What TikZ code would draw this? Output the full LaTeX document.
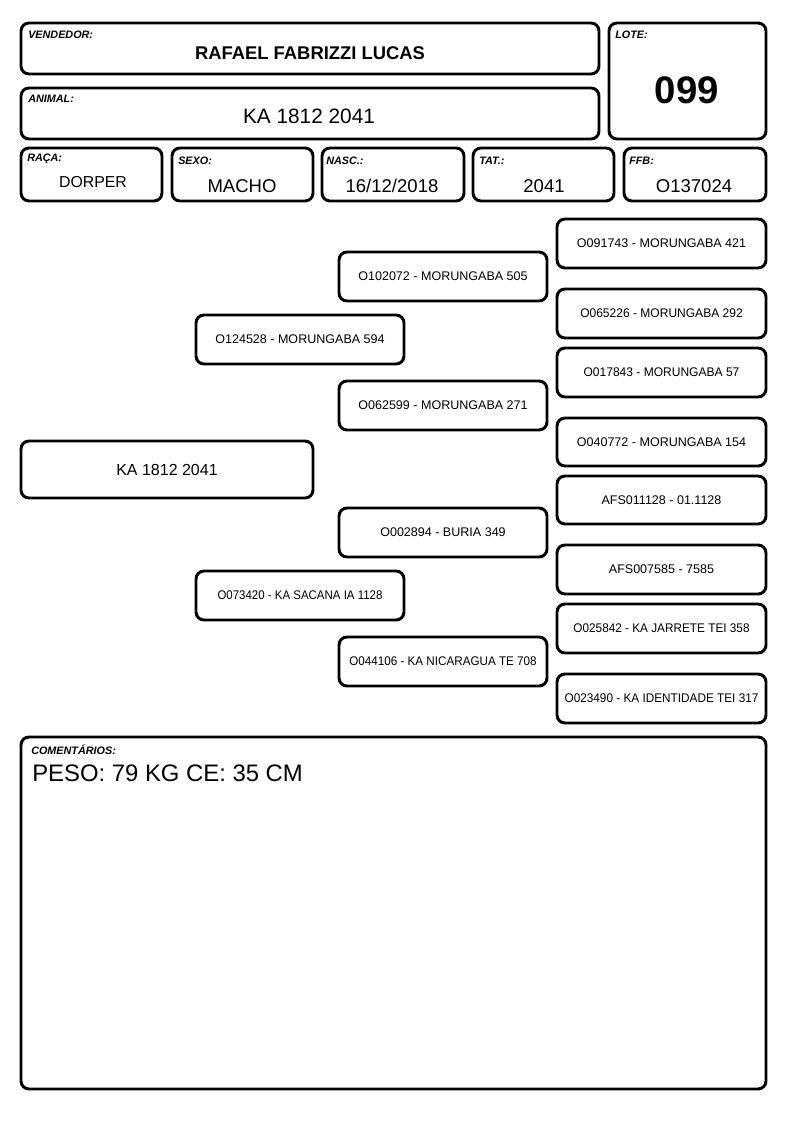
\documentclass[tikz,border=0pt]{standalone}
\usepackage{fontspec}
\setmainfont{Liberation Sans}
\newcommand\bx[7][frame]{\node[#1, minimum width={(#5-#3)*0.75pt}, minimum height={(#6-#4)*0.75pt}] (#2) at ({(#3+#5)/2},{(#4+#6)/2}) {#7};}
\newcommand\sqz[2]{\scalebox{#1}[1]{#2}}
\begin{document}
\begin{tikzpicture}[x=0.75pt,y=-0.75pt,
  frame/.style={draw, line width=2.2pt, rounded corners=6pt, inner sep=0pt},
  lbl/.style={anchor=west, inner sep=0pt, font=\fontsize{8.1pt}{9pt}\selectfont\bfseries\itshape},
  ped/.style={frame, font=\fontsize{9.4pt}{11pt}\selectfont, align=center},
  val/.style={inner sep=0pt, font=\fontsize{13.9pt}{16pt}\selectfont},
]
\useasboundingbox[fill=white] (0,0) rectangle (794,1123);
% header boxes
\bx{vend}{21}{23}{599}{74}{}
\bx{anim}{21}{88}{599}{139}{}
\bx{lote}{609}{23}{766}{139}{}
\bx{raca}{21}{148}{162}{201}{}
\bx{sexo}{172}{148}{313}{201}{}
\bx{nasc}{322}{148}{464}{201}{}
\bx{tat}{473}{148}{614}{201}{}
\bx{ffb}{624}{148}{766}{201}{}
% labels
\node[lbl] (lvend) at (28,35) {VENDEDOR:};
\node[lbl] (lanim) at (28,99) {ANIMAL:};
\node[lbl] (llote) at (615,35) {LOTE:};
\node[lbl] (lraca) at (27,159) {RAÇA:};
\node[lbl] (lsexo) at (178,161) {SEXO:};
\node[lbl] (lnasc) at (326,161) {NASC.:};
\node[lbl] (ltat) at (479,161) {TAT.:};
\node[lbl] (lffb) at (629,161) {FFB:};
% values
\node[val, font=\fontsize{13.8pt}{16pt}\selectfont\bfseries] (vvend) at (310,53) {RAFAEL FABRIZZI LUCAS};
\node[val, font=\fontsize{15.6pt}{18pt}\selectfont] (vanim) at (309,116) {KA 1812 2041};
\node[val, font=\fontsize{28.8pt}{32pt}\selectfont\bfseries] (vlote) at (687,90) {099};
\node[val, font=\fontsize{11.9pt}{14pt}\selectfont] (vraca) at (93,182) {DORPER};
\node[val] (vsexo) at (242,186) {MACHO};
\node[val] (vnasc) at (392,186) {16/12/2018};
\node[val] (vtat) at (544,186) {2041};
\node[val] (vffb) at (694,186) {O137024};
% pedigree
\bx[ped, font=\fontsize{12pt}{14pt}\selectfont]{main}{21}{441}{313}{498}{KA 1812 2041}
\bx[ped]{p1}{196}{315}{404}{364}{O124528 - MORUNGABA 594}
\bx[ped]{p2}{196}{571}{404}{620}{\sqz{0.915}{O073420 - KA SACANA IA 1128}}
\bx[ped]{g1}{339}{252}{547}{301}{O102072 - MORUNGABA 505}
\bx[ped]{g2}{339}{381}{547}{430}{O062599 - MORUNGABA 271}
\bx[ped]{g3}{339}{508}{547}{557}{O002894 - BURIA 349}
\bx[ped]{g4}{339}{637}{547}{686}{\sqz{0.93}{O044106 - KA NICARAGUA TE 708}}
\bx[ped]{gg1}{557}{219}{766}{268}{O091743 - MORUNGABA 421}
\bx[ped]{gg2}{557}{289}{766}{338}{\sqz{0.96}{O065226 - MORUNGABA 292}}
\bx[ped]{gg3}{557}{348}{766}{397}{\sqz{0.96}{O017843 - MORUNGABA 57}}
\bx[ped]{gg4}{557}{418}{766}{466}{O040772 - MORUNGABA 154}
\bx[ped]{gg5}{557}{476}{766}{524}{AFS011128 - 01.1128}
\bx[ped]{gg6}{557}{545}{766}{594}{AFS007585 - 7585}
\bx[ped]{gg7}{557}{604}{766}{653}{\sqz{0.94}{O025842 - KA JARRETE TEI 358}}
\bx[ped]{gg8}{557}{674}{766}{723}{\sqz{0.94}{O023490 - KA IDENTIDADE TEI 317}}
% comments
\bx{com}{21}{737}{766}{1089}{}
\node[lbl] (lcom) at (31,750) {COMENTÁRIOS:};
\node[anchor=west, inner sep=0pt, font=\fontsize{17.9pt}{20pt}\selectfont] (vcom) at (32,773) {PESO: 79 KG CE: 35 CM};
\end{tikzpicture}
\end{document}
